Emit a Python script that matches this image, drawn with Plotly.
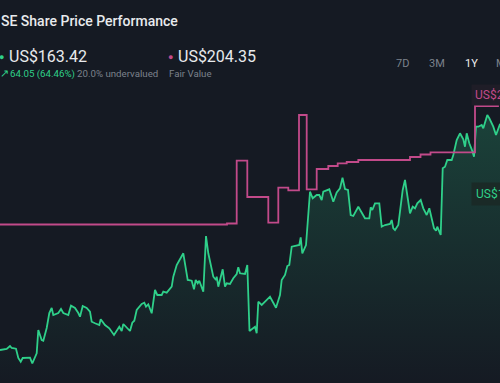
import plotly.graph_objects as go

# Share price (x = trading-day position, y = US$)
price_x = [0, 6.7, 10, 11.7, 16, 18.3, 20.7, 22.7, 30, 32.3, 36.7, 38.3, 41.7, 43.3, 46.7, 49.3, 51.7, 53.3,
           58.3, 61, 63.3, 68.3, 71, 75, 78.3, 80, 82.7, 86.7, 90, 91.7, 95, 99.3, 100.7, 105, 109.3, 114,
           119.3, 121.7, 123.3, 130, 132.3, 134.3, 136.7, 141.7, 144.3, 146, 148.3, 151.7, 155, 157.3,
           161.7, 163.3, 166.7, 171.7, 173.3, 176.7, 183.3, 187.7, 191.7, 194, 195.7, 197.7, 199.3, 203.3,
           206, 208.3, 213.3, 216, 216.7, 218.3, 222.7, 225, 226.7, 230, 233.3, 236.7, 238.3, 240, 245,
           247.3, 249.5, 255, 256.7, 258.3, 261.7, 266.7, 270, 276, 280, 281.7, 285, 287.3, 289.3, 291.7,
           299.3, 300.7, 302.3, 306, 307.3, 310, 312.7, 316.7, 319.3, 321.7, 323.3, 329.3, 333.3, 336.7,
           340, 342.5, 345, 348, 350.7, 353.3, 358.3, 365, 369.3, 370.7, 372.3, 375, 379.3, 381.7, 385,
           390, 391.7, 393.3, 395, 398.3, 400, 402.7, 405, 407.3, 410, 412.7, 415, 417.3, 420.7, 423.3,
           426.7, 429.3, 431.7, 434, 436, 437.3, 440.7, 442.7, 445, 447.3, 451.7, 453.3, 456.7, 460,
           463.3, 465, 466.7, 469.3, 471.7, 474, 476, 478.3, 481.7, 483.3, 487.3, 489.3, 493.3, 496, 500, 504]
price_y = [82.0, 82.5, 84.0, 83.0, 82.65, 78.0, 76.15, 78.0, 78.15, 75.35, 80.35, 92.0, 87.0, 86.65, 93.0,
           100.5, 103.0, 99.5, 100.5, 102.5, 100.5, 99.5, 104.15, 103.0, 100.5, 98.65, 104.0, 103.0, 101.15,
           96.15, 95.35, 94.5, 97.35, 94.5, 92.85, 89.5, 93.65, 91.5, 95.0, 91.5, 95.65, 96.65, 102.0, 105.0,
           105.65, 103.65, 104.85, 100.35, 112.0, 109.5, 109.5, 111.15, 110.65, 113.65, 118.65, 124.5,
           130.35, 117.0, 116.65, 112.35, 117.0, 115.35, 116.65, 111.15, 139.0, 130.35, 118.65, 117.0,
           118.65, 113.65, 122.35, 113.65, 115.35, 115.0, 117.85, 120.0, 123.35, 120.35, 120.0, 124.5,
           91.5, 93.65, 90.35, 106.15, 104.5, 107.0, 108.65, 103.15, 109.5, 117.0, 119.5, 124.0, 124.5,
           133.65, 134.5, 138.35, 130.35, 134.5, 142.85, 161.15, 157.85, 159.5, 159.5, 157.0, 161.15,
           162.35, 156.15, 160.75, 162.85, 168.15, 162.5, 162.0, 149.5, 149.0, 153.65, 147.85, 147.85,
           153.35, 152.0, 155.35, 155.35, 143.65, 144.5, 145.0, 147.0, 142.85, 142.0, 144.5, 151.15, 162.0,
           167.0, 158.65, 150.35, 153.65, 152.85, 155.35, 157.0, 152.85, 149.5, 152.85, 147.0, 142.85,
           141.65, 143.65, 139.5, 172.85, 173.65, 177.0, 177.0, 179.5, 187.0, 190.35, 187.35, 183.65,
           190.35, 185.35, 182.35, 178.65, 193.65, 193.65, 194.5, 192.85, 199.5, 197.85, 193.65, 189.5,
           195.0, 192.0]

# Fair value (step line)
fair_x = [0, 227, 236.7, 247.3, 268.3, 278.3, 288.3, 299, 306.7, 316.7, 328.3, 337.7, 346.7, 358.3, 410,
          420.5, 430.5, 475, 498, 510]
fair_y = [144.75, 145.25, 176.65, 158.5, 145.65, 163.15, 161.85, 199.5, 162.35, 172.5, 174.0, 175.35,
          176.0, 177.0, 178.5, 179.75, 180.85, 204.0, 205.75, 205.75]

title_text = "SE Share Price Performance"
price_label = "US$163.42"
change_label = "64.05 (64.46%)"
valuation_label = "20.0% undervalued"
fair_label = "US$204.35"
fair_caption = "Fair Value"
range_buttons = ["7D", "3M", "1Y", "MAX"]

BG = "#151a23"
GREEN = "#2fd08a"
PINK = "#c24a8a"
GRAY = "#7c828c"
W, H = 500, 383
Y_MIN, Y_MAX = 65.5, 257

fig = go.Figure()
fig.add_trace(go.Scatter(
    x=price_x, y=price_y, mode="lines",
    line=dict(color=GREEN, width=1.8),
    fill="tozeroy",
    fillgradient=dict(type="vertical", start=Y_MIN, stop=200,
                      colorscale=[[0, "rgba(47,208,138,0.0)"], [1, "rgba(47,208,138,0.22)"]]),
    hoverinfo="skip", showlegend=False))
fig.add_trace(go.Scatter(
    x=fair_x, y=fair_y, mode="lines", line=dict(color=PINK, width=1.8, shape="hv"),
    hoverinfo="skip", showlegend=False))

def px(x):
    return x / W

def py(y):
    return 1 - y / H

ann = []
ann.append(dict(text=title_text, x=px(-1), y=py(21), font=dict(size=14, color="#e8eaed", weight=500)))
# dots
ann.append(dict(text="●", x=px(1), y=py(57), xanchor="center", font=dict(size=9, color=GREEN)))
ann.append(dict(text="●", x=px(170.5), y=py(57), xanchor="center", font=dict(size=9, color=PINK)))
ann.append(dict(text=price_label, x=px(7), y=py(57), font=dict(size=16, color="#e8eaed")))
ann.append(dict(text=fair_label, x=px(176), y=py(57), font=dict(size=16, color="#e8eaed")))
ann.append(dict(text="↗", x=px(-2), y=py(73.5), font=dict(size=11, color=GREEN)))
ann.append(dict(text=change_label, x=px(8), y=py(73.5), font=dict(size=9.7, color=GREEN)))
ann.append(dict(text=valuation_label, x=px(75), y=py(73.5), font=dict(size=9.7, color=GRAY)))
ann.append(dict(text=fair_caption, x=px(167), y=py(73.5), font=dict(size=9.7, color=GRAY)))
btn_x = [394, 427, 463, 494]
for lbl, bx in zip(range_buttons, btn_x):
    ann.append(dict(text=lbl, x=px(bx), y=py(63),
                    font=dict(size=11, color="#f0f0f0" if lbl == "1Y" else GRAY)))
ann.append(dict(text=fair_label, x=px(471), y=py(95), font=dict(size=12, color=PINK),
                bgcolor="#1f1d27", borderpad=3))
ann.append(dict(text=price_label, x=px(471), y=py(194), font=dict(size=12, color=GREEN),
                bgcolor="#1a2a27", borderpad=4))
for a in ann:
    a.setdefault("xanchor", "left")
    a.update(xref="paper", yref="paper", yanchor="middle", showarrow=False, align="left")

fig.update_layout(
    width=W, height=H, margin=dict(l=0, r=0, t=0, b=0),
    paper_bgcolor=BG, plot_bgcolor=BG,
    font=dict(family="Roboto, sans-serif"),
    xaxis=dict(range=[0, 500], visible=False, fixedrange=True),
    yaxis=dict(range=[Y_MIN, Y_MAX], visible=False, fixedrange=True),
    annotations=ann,
)
fig.write_html("out.html", config={"displayModeBar": False},
               post_script="document.body.style.margin='0';document.body.style.overflow='hidden';"
                           "document.body.style.background='" + BG + "';")
